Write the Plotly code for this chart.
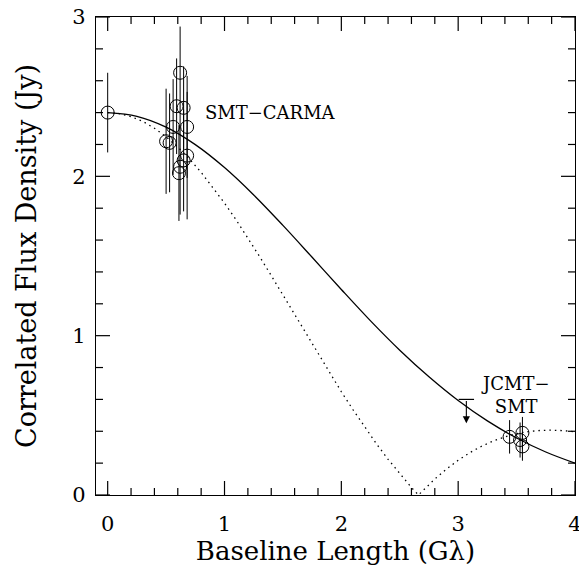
import plotly.graph_objects as go

# ---- model curves ----
gauss_u = [0.0, 0.25, 0.5, 0.75, 1.0, 1.25, 1.5, 1.75, 2.0, 2.25, 2.5, 2.75, 3.0, 3.25, 3.5, 3.75, 4.0]
gauss_v = [2.40, 2.377, 2.309, 2.199, 2.055, 1.883, 1.692, 1.492, 1.290, 1.093, 0.909, 0.742, 0.593, 0.465, 0.358, 0.270, 0.200]

ring_u = [0.0, 0.1, 0.2, 0.3, 0.4, 0.5, 0.6, 0.7, 0.8, 0.9, 1.0, 1.1, 1.2, 1.3, 1.4, 1.5, 1.6, 1.7, 1.8, 1.9,
          2.0, 2.1, 2.2, 2.3, 2.4, 2.5, 2.6, 2.66, 2.7, 2.8, 2.9, 3.0, 3.1, 3.2, 3.3, 3.4, 3.5, 3.6, 3.7, 3.8, 3.9, 4.0]
ring_v = [2.40, 2.394, 2.375, 2.345, 2.302, 2.248, 2.184, 2.109, 2.025, 1.932, 1.832, 1.726, 1.614, 1.497, 1.377,
          1.256, 1.132, 1.009, 0.886, 0.766, 0.648, 0.535, 0.426, 0.322, 0.224, 0.132, 0.047, 0.0, 0.030, 0.100,
          0.163, 0.218, 0.266, 0.306, 0.339, 0.365, 0.385, 0.398, 0.405, 0.407, 0.404, 0.397]

# ---- measurements ----
zero_u = [0.0]
zero_v = [2.40]
zero_err = [0.25]

carma_u = [0.50, 0.53, 0.56, 0.59, 0.62, 0.65, 0.68, 0.68, 0.65, 0.62, 0.61]
carma_v = [2.22, 2.21, 2.31, 2.44, 2.65, 2.43, 2.31, 2.13, 2.10, 2.06, 2.02]
carma_err = [0.33, 0.31, 0.30, 0.30, 0.29, 0.26, 0.32, 0.40, 0.32, 0.30, 0.30]

jcmt_u = [3.44, 3.55, 3.53, 3.55]
jcmt_v = [0.365, 0.39, 0.345, 0.305]
jcmt_err = [0.105, 0.10, 0.11, 0.09]

limit_u = [3.07]
limit_v = [0.60]
limit_drop = 0.15

# ---- ticks ----
x_ticks = [0, 1, 2, 3, 4]
y_ticks = [0, 1, 2, 3]
x_minor = [0.2, 0.4, 0.6, 0.8, 1.2, 1.4, 1.6, 1.8, 2.2, 2.4, 2.6, 2.8, 3.2, 3.4, 3.6, 3.8]
y_minor = [0.2, 0.4, 0.6, 0.8, 1.2, 1.4, 1.6, 1.8, 2.2, 2.4, 2.6, 2.8]

FONT = "DejaVu Serif"
MAJOR_LEN, MINOR_LEN = 14, 7

fig = go.Figure()

fig.add_trace(go.Scatter(x=ring_u, y=ring_v, mode="lines",
                         line=dict(color="black", width=1.3, dash="1.5px,4px"), hoverinfo="skip"))
fig.add_trace(go.Scatter(x=gauss_u, y=gauss_v, mode="lines", line_shape="spline",
                         line=dict(color="black", width=1.3), hoverinfo="skip"))

pt_marker = dict(symbol="circle-open", size=13, color="black", line=dict(width=1, color="black"))
err_style = dict(type="data", thickness=1, width=0, color="black")

for uu, vv, ee in [(zero_u, zero_v, zero_err), (carma_u, carma_v, carma_err), (jcmt_u, jcmt_v, jcmt_err)]:
    fig.add_trace(go.Scatter(x=uu, y=vv, mode="markers", marker=pt_marker,
                             error_y=dict(array=ee, **err_style)))

# upper limit: cap + arrow
fig.add_trace(go.Scatter(x=limit_u, y=limit_v, mode="markers",
                         marker=dict(symbol="line-ew-open", size=11, color="black",
                                     line=dict(width=1.2, color="black"))))
fig.add_annotation(x=limit_u[0], y=limit_v[0] - limit_drop, ax=limit_u[0], ay=limit_v[0],
                   xref="x", yref="y", axref="x", ayref="y", showarrow=True,
                   arrowhead=2, arrowsize=1.3, arrowwidth=1.1, arrowcolor="black", text="")

fig.add_annotation(x=0.82, y=2.40, text="SMT\u2212CARMA", showarrow=False, xanchor="left", yanchor="middle",
                   font=dict(family=FONT, size=18, color="black"))
fig.add_annotation(x=3.49, y=0.63, text="JCMT\u2212<br>SMT", showarrow=False, xanchor="center", yanchor="middle",
                   font=dict(family=FONT, size=18, color="black"))

# inward tick marks on all four sides of the frame (pixel lengths)
tick_line = dict(color="black", width=1.2)
for vals, ln in [(x_ticks, MAJOR_LEN), (x_minor, MINOR_LEN)]:
    for v in vals:
        fig.add_shape(type="line", xref="x", yref="paper", ysizemode="pixel", yanchor=0,
                      x0=v, x1=v, y0=0, y1=ln, line=tick_line, layer="above")
        fig.add_shape(type="line", xref="x", yref="paper", ysizemode="pixel", yanchor=1,
                      x0=v, x1=v, y0=0, y1=-ln, line=tick_line, layer="above")
for vals, ln in [(y_ticks, MAJOR_LEN), (y_minor, MINOR_LEN)]:
    for v in vals:
        fig.add_shape(type="line", yref="y", xref="paper", xsizemode="pixel", xanchor=0,
                      y0=v, y1=v, x0=0, x1=ln, line=tick_line, layer="above")
        fig.add_shape(type="line", yref="y", xref="paper", xsizemode="pixel", xanchor=1,
                      y0=v, y1=v, x0=0, x1=-ln, line=tick_line, layer="above")

axis_common = dict(showline=True, linecolor="black", linewidth=1.4, mirror=True,
                   ticks="", showgrid=False, zeroline=False, ticklabeloverflow="allow",
                   tickfont=dict(family=FONT, size=21, color="black"))

fig.update_xaxes(range=[-0.1, 4.0], tickvals=x_ticks, ticktext=[str(t) for t in x_ticks],
                 ticklabelstandoff=10,
                 title=dict(text="Baseline Length (G\u03bb)", font=dict(family=FONT, size=26, color="black"), standoff=4),
                 **axis_common)
fig.update_yaxes(range=[0, 3.0], tickvals=y_ticks, ticktext=[str(t) for t in y_ticks],
                 ticklabelstandoff=5,
                 title=dict(text="Correlated Flux Density (Jy)", font=dict(family=FONT, size=27, color="black"), standoff=27),
                 **axis_common)

fig.update_layout(width=579, height=570, margin=dict(l=96, r=4, t=17, b=75),
                  template="none",
                  plot_bgcolor="white", paper_bgcolor="white", showlegend=False)

page_fix = ("document.documentElement.style.overflow='hidden';"
            "document.body.style.margin='0';document.body.style.overflow='hidden';")

fig.write_html("out.html", post_script=page_fix, config={"displayModeBar": False})
